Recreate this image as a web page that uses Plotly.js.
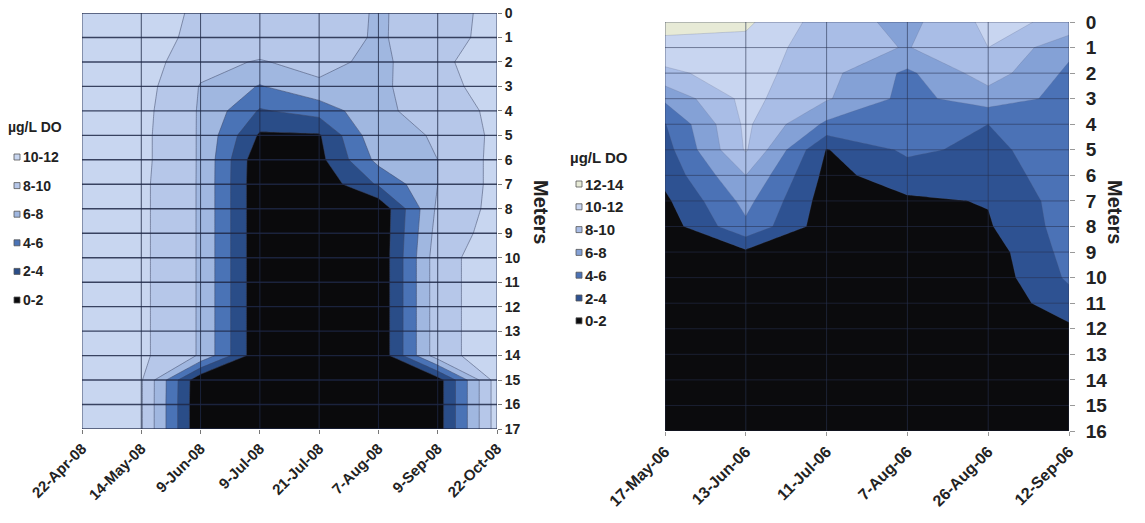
<!DOCTYPE html>
<html>
<head>
<meta charset="utf-8">
<script src="https://cdn.plot.ly/plotly-3.0.1.min.js"></script>
<style>
  html, body { margin: 0; padding: 0; background: #ffffff; }
  #chart { width: 1145px; height: 523px; }
</style>
</head>
<body>
<div id="chart"></div>
<script>
// ---------- 2008 season: dissolved oxygen profiles (one array per sampling date, depth 0..17 m) ----------
const dates2008 = ['22-Apr-08', '14-May-08', '9-Jun-08', '9-Jul-08', '21-Jul-08', '7-Aug-08', '9-Sep-08', '22-Oct-08'];
const depths2008 = [0, 1, 2, 3, 4, 5, 6, 7, 8, 9, 10, 11, 12, 13, 14, 15, 16, 17];
const do_22Apr08 = [11.2, 11.2, 11.1, 11.0, 10.9, 11.0, 11.0, 11.0, 11.0, 10.9, 10.9, 10.9, 10.8, 10.8, 10.8, 10.8, 10.8, 10.8];
const do_14May08 = [11.1, 11.0, 11.0, 10.8, 10.6, 10.5, 10.5, 10.4, 10.4, 10.4, 10.4, 10.4, 10.4, 10.4, 10.4, 10.2, 10.2, 10.2];
const do_09Jun08 = [9.6, 9.4, 8.6, 7.9, 7.8, 7.8, 7.8, 7.8, 7.8, 7.8, 7.8, 7.8, 7.8, 7.8, 7.8, 0.2, 0.1, 0.1];
const do_09Jul08 = [9.5, 9.3, 7.85, 5.86, 3.8, 1.7, 0.4, 0.3, 0.3, 0.3, 0.3, 0.3, 0.3, 0.3, 0.3, 0.2, 0.2, 0.2];
const do_21Jul08 = [9.6, 9.3, 8.7, 7.6, 4.8, 1.8, 1.4, 0.5, 0.3, 0.3, 0.3, 0.3, 0.3, 0.3, 0.3, 0.2, 0.2, 0.2];
const do_07Aug08 = [7.7, 7.7, 7.4, 7.5, 7.6, 7.6, 6.6, 4.25, 0.3, 0.3, 0.3, 0.3, 0.3, 0.3, 0.3, 0.2, 0.2, 0.2];
const do_09Sep08 = [9.4, 9.5, 9.8, 9.6, 8.8, 8.1, 8.0, 8.0, 8.4, 8.8, 9.2, 9.2, 9.2, 9.2, 9.2, 1.0, 1.0, 1.0];
const do_22Oct08 = [10.4, 10.4, 10.5, 10.5, 10.5, 10.5, 10.6, 10.6, 10.6, 10.8, 11.2, 11.2, 11.2, 11.2, 11.2, 11.0, 11.0, 11.0];
const bands2008 = ['10-12', '8-10', '6-8', '4-6', '2-4', '0-2'];

// ---------- 2006 season: dissolved oxygen profiles (depth 0..16 m) ----------
const dates2006 = ['17-May-06', '13-Jun-06', '11-Jul-06', '7-Aug-06', '26-Aug-06', '12-Sep-06'];
const depths2006 = [0, 1, 2, 3, 4, 5, 6, 7, 8, 9, 10, 11, 12, 13, 14, 15, 16];
const do_17May06 = [12.9, 11.2, 9.6, 6.4, 3.9, 3.2, 2.6, 1.6, 0.9, 0.7, 0.6, 0.5, 0.5, 0.4, 0.4, 0.4, 0.4];
const do_13Jun06 = [12.4, 11.3, 10.9, 10.6, 10.4, 10.2, 8.0, 6.6, 5.6, 1.6, 1.0, 0.8, 0.7, 0.6, 0.5, 0.5, 0.5];
const do_11Jul06 = [9.0, 8.8, 8.6, 8.2, 5.6, 1.9, 1.4, 1.0, 0.8, 0.7, 0.6, 0.5, 0.5, 0.4, 0.4, 0.4, 0.4];
const do_07Aug06 = [7.4, 7.9, 5.6, 5.4, 5.0, 4.4, 3.0, 1.7, 1.1, 0.8, 0.6, 0.5, 0.5, 0.4, 0.4, 0.4, 0.4];
const do_26Aug06 = [10.5, 10.0, 9.0, 7.0, 4.0, 3.5, 3.0, 2.1, 1.8, 1.0, 0.8, 0.6, 0.5, 0.5, 0.4, 0.4, 0.4];
const do_12Sep06 = [9.6, 6.5, 5.6, 5.4, 5.3, 5.2, 5.1, 5.0, 4.9, 4.7, 4.3, 3.2, 1.6, 1.0, 0.8, 0.6, 0.5];
const bands2006 = ['12-14', '10-12', '8-10', '6-8', '4-6', '2-4', '0-2'];

// Band fills, lowest band first
const fill2008 = ['#0a0a0c', '#2a4d88', '#4a73b6', '#a0b7e0', '#b6c7e9', '#c8d6f0'];
const fill2006 = ['#0b0b0d', '#2e5292', '#4b72b6', '#84a1d6', '#a9bde6', '#c8d5f0', '#e7ead6'];

const W = 1145, H = 523;
const px = v => v / W;          // pixel -> paper x
const py = v => 1 - v / H;      // pixel -> paper y

// Profiles are per date; the contour grid wants rows per depth
function gridFromProfiles(profiles) {
  return profiles[0].map((_, r) => profiles.map(p => p[r]));
}
// Stepped colour scale so each 2-unit band gets exactly one fill
function bandScale(colors) {
  const n = colors.length - 1;
  return colors.map((c, i) => [i / n, c]);
}

const narrow = '"Liberation Sans Narrow", "Arial Narrow", "Liberation Sans", Arial, sans-serif';
const bold = 'Liberation Sans, Arial, sans-serif';

const z2008 = gridFromProfiles([do_22Apr08, do_14May08, do_09Jun08, do_09Jul08, do_21Jul08, do_07Aug08, do_09Sep08, do_22Oct08]);
const z2006 = gridFromProfiles([do_17May06, do_13Jun06, do_11Jul06, do_07Aug06, do_26Aug06, do_12Sep06]);

const traces = [
  {
    type: 'contour', x: dates2008, y: depths2008, z: z2008, xaxis: 'x', yaxis: 'y',
    autocontour: false, contours: { start: 2, end: 10, size: 2, coloring: 'fill', showlines: true },
    colorscale: bandScale(fill2008), showscale: false,
    line: { width: 0.8, color: 'rgba(60,70,100,0.65)', smoothing: 0 },
    hoverinfo: 'skip'
  },
  {
    type: 'contour', x: dates2006, y: depths2006, z: z2006, xaxis: 'x2', yaxis: 'y2',
    autocontour: false, contours: { start: 2, end: 12, size: 2, coloring: 'fill', showlines: true },
    colorscale: bandScale(fill2006), showscale: false,
    line: { width: 0.5, color: 'rgba(90,100,130,0.45)', smoothing: 0 },
    hoverinfo: 'skip'
  }
];

// Grid lines drawn on top of the filled contours
const shapes = [];
function addGrid(xr, yr, cats, depths, hColor, hWidth, vColor, vWidth) {
  depths.forEach(d => shapes.push({
    type: 'line', xref: xr + ' domain', yref: yr, x0: 0, x1: 1, y0: d, y1: d,
    line: { color: hColor, width: hWidth }, layer: 'above'
  }));
  cats.forEach((c, i) => shapes.push({
    type: 'line', xref: xr, yref: yr + ' domain', x0: i, x1: i, y0: 0, y1: 1,
    line: { color: vColor, width: vWidth }, layer: 'above'
  }));
}
addGrid('x', 'y', dates2008, depths2008, 'rgba(30,40,70,0.85)', 1.4, 'rgba(30,40,70,0.8)', 1);
addGrid('x2', 'y2', dates2006, depths2006, 'rgba(40,50,80,0.55)', 1, 'rgba(40,50,80,0.6)', 1);

// Legends: title, then one swatch + label per band (highest band first)
const annotations = [];
function addLegend(x, titleY, firstY, step, labels, colors, size) {
  annotations.push({
    xref: 'paper', yref: 'paper', x: px(x - 8), y: py(titleY), xanchor: 'left', yanchor: 'middle',
    text: 'µg/L DO', showarrow: false, font: { family: narrow, size: size, color: '#222', weight: 'bold' }
  });
  labels.forEach((lab, i) => {
    const yc = firstY + i * step;
    const col = colors[colors.length - 1 - i];
    shapes.push({
      type: 'rect', xref: 'paper', yref: 'paper',
      x0: px(x), x1: px(x + 6), y0: py(yc + 3), y1: py(yc - 3),
      fillcolor: col, line: { color: '#555', width: 0.8 }
    });
    annotations.push({
      xref: 'paper', yref: 'paper', x: px(x + 7), y: py(yc), xanchor: 'left', yanchor: 'middle',
      text: lab, showarrow: false, font: { family: narrow, size: size, color: '#222', weight: 'bold' }
    });
  });
}
addLegend(14, 127, 157, 28.6, bands2008, fill2008, 14);
addLegend(576, 157, 184, 22.8, bands2006, fill2006, 15);

// Depth axis titles, reading downward
annotations.push({
  xref: 'paper', yref: 'paper', x: px(541), y: py(212), text: 'Meters', textangle: 90,
  showarrow: false, font: { family: bold, size: 20, color: '#222', weight: 'bold' }
});
annotations.push({
  xref: 'paper', yref: 'paper', x: px(1128), y: py(212), text: 'Meters', textangle: 90,
  showarrow: false, font: { family: bold, size: 20, color: '#222', weight: 'bold' }
});

const tickFontDates2008 = { family: narrow, size: 15, color: '#222', weight: 'bold' };
const tickFontDepth2008 = { family: narrow, size: 14, color: '#222', weight: 'bold' };
const tickFontDates2006 = { family: narrow, size: 16, color: '#222', weight: 'bold' };
const tickFontDepth2006 = { family: narrow, size: 19, color: '#222', weight: 'bold' };

const layout = {
  width: W, height: H,
  margin: { l: 0, r: 0, t: 0, b: 0 },
  paper_bgcolor: '#ffffff', plot_bgcolor: '#ffffff',
  showlegend: false,
  xaxis: {
    domain: [px(82), px(497)], anchor: 'y', type: 'category', range: [0, dates2008.length - 1],
    showgrid: false, zeroline: false, showline: false,
    ticks: 'outside', ticklen: 4, tickcolor: '#777', tickangle: -45, tickfont: tickFontDates2008
  },
  yaxis: {
    domain: [py(429), py(13)], anchor: 'x', side: 'right',
    range: [depths2008[depths2008.length - 1], 0], tickvals: depths2008,
    showgrid: false, zeroline: false, showline: false,
    ticks: 'outside', ticklen: 4, tickcolor: '#777', tickfont: tickFontDepth2008
  },
  xaxis2: {
    domain: [px(665), px(1069)], anchor: 'y2', type: 'category', range: [0, dates2006.length - 1],
    showgrid: false, zeroline: false, showline: false,
    ticks: 'outside', ticklen: 4, tickcolor: '#999', tickangle: -45, tickfont: tickFontDates2006
  },
  yaxis2: {
    domain: [py(431), py(22)], anchor: 'x2', side: 'right',
    range: [depths2006[depths2006.length - 1], 0], tickvals: depths2006,
    showgrid: false, zeroline: false, showline: false,
    ticks: 'outside', ticklen: 5, tickcolor: '#999', ticklabelstandoff: 7, tickfont: tickFontDepth2006
  },
  shapes: shapes,
  annotations: annotations
};

Plotly.newPlot('chart', traces, layout, { staticPlot: true, displayModeBar: false });
</script>
</body>
</html>
